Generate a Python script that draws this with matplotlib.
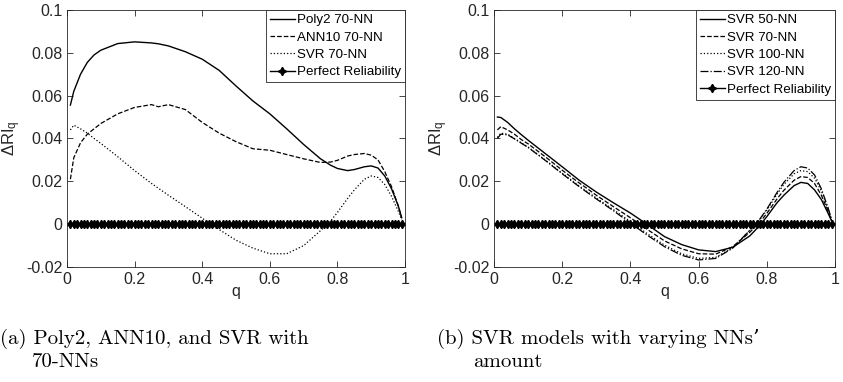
import numpy as np
import matplotlib
matplotlib.use("Agg")
import matplotlib.pyplot as plt

plt.rcParams['font.family'] = ['Liberation Sans', 'DejaVu Sans']
plt.rcParams['mathtext.default'] = 'regular'

# shared q grid
q = [0.01, 0.02, 0.04, 0.06, 0.08, 0.10, 0.15, 0.20, 0.25, 0.27, 0.30, 0.35,
     0.40, 0.45, 0.50, 0.55, 0.60, 0.65, 0.70, 0.75, 0.78, 0.80, 0.83, 0.85,
     0.88, 0.90, 0.92, 0.94, 0.96, 0.98, 0.99]

# panel (a)
poly2_70 = [0.0556, 0.0620, 0.0700, 0.0755, 0.0790, 0.0812, 0.0843, 0.0851,
            0.0846, 0.0842, 0.0832, 0.0805, 0.0770, 0.0718, 0.0645, 0.0575,
            0.0515, 0.0445, 0.0372, 0.0305, 0.0275, 0.0260, 0.0250, 0.0255,
            0.0268, 0.0272, 0.0262, 0.0225, 0.0165, 0.0085, 0.0030]
ann10_70 = [0.0210, 0.0310, 0.0380, 0.0420, 0.0445, 0.0470, 0.0515, 0.0545,
            0.0558, 0.0548, 0.0558, 0.0535, 0.0475, 0.0425, 0.0385, 0.0352,
            0.0345, 0.0325, 0.0305, 0.0288, 0.0290, 0.0298, 0.0318, 0.0325,
            0.0330, 0.0322, 0.0300, 0.0245, 0.0175, 0.0085, 0.0030]
svr_70a = [0.0440, 0.0462, 0.0445, 0.0425, 0.0400, 0.0377, 0.0315, 0.0250,
           0.0190, 0.0168, 0.0135, 0.0082, 0.0028, -0.0025, -0.0075, -0.0112,
           -0.0138, -0.0138, -0.0100, -0.0030, 0.0015, 0.0055, 0.0120, 0.0160,
           0.0210, 0.0225, 0.0218, 0.0185, 0.0130, 0.0060, 0.0020]

# panel (b)
svr_50 = [0.0500, 0.0498, 0.0475, 0.0445, 0.0418, 0.0392, 0.0330, 0.0268,
          0.0205, 0.0183, 0.0150, 0.0100, 0.0052, -0.0002, -0.0058, -0.0095,
          -0.0120, -0.0128, -0.0108, -0.0055, -0.0005, 0.0035, 0.0100, 0.0135,
          0.0180, 0.0195, 0.0190, 0.0160, 0.0115, 0.0050, 0.0015]
svr_70 = [0.0440, 0.0455, 0.0440, 0.0420, 0.0395, 0.0375, 0.0315, 0.0252,
          0.0192, 0.0170, 0.0135, 0.0082, 0.0030, -0.0025, -0.0078, -0.0115,
          -0.0138, -0.0140, -0.0105, -0.0038, 0.0010, 0.0050, 0.0118, 0.0158,
          0.0205, 0.0222, 0.0218, 0.0190, 0.0135, 0.0060, 0.0018]
svr_100 = [0.0405, 0.0425, 0.0420, 0.0400, 0.0380, 0.0360, 0.0300, 0.0238,
           0.0178, 0.0156, 0.0122, 0.0068, 0.0012, -0.0045, -0.0098, -0.0138,
           -0.0160, -0.0155, -0.0110, -0.0030, 0.0022, 0.0065, 0.0140, 0.0185,
           0.0235, 0.0250, 0.0245, 0.0215, 0.0155, 0.0070, 0.0020]
svr_120 = [0.0400, 0.0420, 0.0417, 0.0398, 0.0378, 0.0358, 0.0298, 0.0235,
           0.0175, 0.0152, 0.0118, 0.0063, 0.0005, -0.0052, -0.0105, -0.0145,
           -0.0167, -0.0160, -0.0112, -0.0028, 0.0025, 0.0070, 0.0148, 0.0195,
           0.0250, 0.0268, 0.0262, 0.0230, 0.0165, 0.0075, 0.0022]

# perfect reliability reference, one marker per 0.01
q_perfect = np.round(np.arange(1, 100) / 100, 2)
perfect = np.zeros(len(q_perfect))

xticks = [0, 0.2, 0.4, 0.6, 0.8, 1]
xticklabels = ['0', '0.2', '0.4', '0.6', '0.8', '1']
yticks = [-0.02, 0, 0.02, 0.04, 0.06, 0.08, 0.1]
yticklabels = ['-0.02', '0', '0.02', '0.04', '0.06', '0.08', '0.1']

fig = plt.figure(figsize=(8.43, 3.82), dpi=100)
ax1 = fig.add_axes([0.0795, 0.301, 0.401, 0.673])
ax2 = fig.add_axes([0.586, 0.301, 0.4045, 0.673])


def style(ax):
    ax.set_xlim(0, 1)
    ax.set_ylim(-0.02, 0.1)
    ax.set_xticks(xticks)
    ax.set_xticklabels(xticklabels)
    ax.set_yticks(yticks)
    ax.set_yticklabels(yticklabels)
    ax.tick_params(direction='in', length=4, width=0.6, labelsize=11.5,
                   top=True, right=True, colors='#262626')
    for s in ax.spines.values():
        s.set_linewidth(0.6)
        s.set_color('#262626')
    ax.set_xlabel('q', fontsize=11.5, labelpad=-2, color='#262626')
    ax.set_ylabel('\u0394RI$_q$', fontsize=12, labelpad=2, color='#262626')


ax1.plot(q, poly2_70, '-', color='k', lw=1.0, label='Poly2 70-NN')
ax1.plot(q, ann10_70, '--', color='k', lw=0.9, label='ANN10 70-NN')
ax1.plot(q, svr_70a, ':', color='k', lw=0.9, label='SVR 70-NN')
ax1.plot(q_perfect, perfect, '-', color='k', lw=1.0, marker=(4, 1, 0),
         markersize=6, label='Perfect Reliability')
style(ax1)

ax2.plot(q, svr_50, '-', color='k', lw=1.0, label='SVR 50-NN')
ax2.plot(q, svr_70, '--', color='k', lw=0.9, label='SVR 70-NN')
ax2.plot(q, svr_100, ':', color='k', lw=0.9, label='SVR 100-NN')
ax2.plot(q, svr_120, '-.', color='k', lw=0.9, label='SVR 120-NN')
ax2.plot(q_perfect, perfect, '-', color='k', lw=1.0, marker=(4, 1, 0),
         markersize=6, label='Perfect Reliability')
style(ax2)

for ax in (ax1, ax2):
    leg = ax.legend(loc='upper right', borderaxespad=0, fontsize=9.6,
                    fancybox=False, framealpha=1, edgecolor='#262626',
                    handlelength=1.9, handletextpad=0.15, labelspacing=0.38,
                    borderpad=0.3, markerscale=1.0)
    leg.get_frame().set_linewidth(0.6)

cap_font = ['cmr10', 'DejaVu Serif']
fig.text(0.0, 1 - 339 / 382, '(a) Poly2, ANN10, and SVR with', fontsize=15,
         family=cap_font, va='center')
fig.text(0.038, 1 - 362 / 382, '70-NNs', fontsize=15, family=cap_font,
         va='center')
fig.text(0.518, 1 - 339 / 382, '(b) SVR models with varying NNs\u2019',
         fontsize=15, family=cap_font, va='center')
fig.text(0.561, 1 - 362 / 382, 'amount', fontsize=15, family=cap_font,
         va='center')

fig.savefig('out.png', dpi=100)
